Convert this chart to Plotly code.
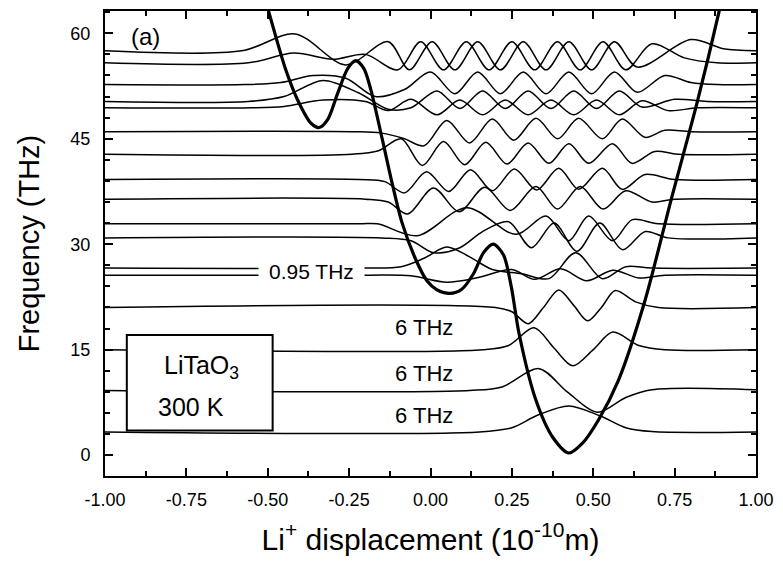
import plotly.graph_objects as go

# ---- potential energy curve (thick line) ----
potential_x = [-0.520, -0.498, -0.446, -0.406, -0.367, -0.342, -0.315, -0.285, -0.254, -0.230,
               -0.205, -0.184, -0.148, -0.117, -0.087, -0.047, -0.011, 0.020, 0.059, 0.096,
               0.132, 0.163, 0.193, 0.224, 0.248, 0.272, 0.324, 0.376, 0.425, 0.467,
               0.516, 0.577, 0.659, 0.738, 0.820, 0.887, 0.900]
potential_f = [66.5, 63.2, 55.0, 50.3, 47.2, 46.6, 47.8, 51.5, 55.0, 56.1,
               55.0, 52.1, 44.9, 38.5, 33.0, 28.0, 24.8, 23.5, 23.0, 23.6,
               25.8, 28.8, 30.0, 28.5, 24.0, 17.3, 7.8, 2.5, 0.3, 1.7,
               5.0, 10.6, 22.0, 36.1, 50.3, 63.2, 66.0]

# ---- vibrational states, offset by their frequencies ----
state_01_x = [-1, 0.15, 0.25, 0.33, 0.425, 0.52, 0.60, 0.68, 1]
state_01_f = [3.3, 3.3, 3.9, 5.7, 7.0, 5.6, 3.9, 3.35, 3.3]

state_02_x = [-1, 0.12, 0.22, 0.333, 0.42, 0.513, 0.60, 0.68, 1]
state_02_f = [9.2, 9.2, 9.7, 12.3, 9.0, 6.1, 8.2, 9.3, 9.3]

state_03_x = [-1, 0.16, 0.24, 0.318, 0.38, 0.437, 0.50, 0.56, 0.64, 0.72, 1]
state_03_f = [15.0, 15.0, 15.6, 18.1, 15.2, 12.7, 15.0, 17.5, 15.6, 15.0, 15.0]

state_04_x = [-1, 0.20, 0.25, 0.30, 0.347, 0.394, 0.44, 0.483, 0.525, 0.568, 0.63, 0.70, 1]
state_04_f = [21.0, 21.0, 20.4, 18.7, 21.0, 23.5, 21.3, 19.1, 21.0, 23.4, 21.8, 21.0, 21.0]

state_05_x = [-1, -0.203, -0.06, 0.05, 0.15, 0.25, 0.32, 0.40, 0.48, 0.56, 0.64, 0.72, 1]
state_05_f = [25.6, 25.6, 25.5, 24.6, 25.3, 26.4, 25.0, 26.5, 24.8, 26.3, 25.2, 25.6, 25.6]

state_06_x = [-1, -0.203, -0.09, -0.02, 0.05, 0.12, 0.19, 0.28, 0.364, 0.446, 0.528, 0.60, 0.68, 1]
state_06_f = [26.6, 26.6, 26.8, 28.0, 29.6, 28.2, 26.4, 25.8, 25.1, 28.8, 25.1, 26.8, 26.6, 26.6]

state_07_x = [-1, -0.15, -0.06, 0.01, 0.09, 0.16, 0.24, 0.31, 0.38, 0.45, 0.52, 0.59, 0.66, 0.73, 1]
state_07_f = [30.9, 30.9, 30.5, 28.8, 29.5, 31.8, 33.2, 29.5, 33.0, 29.0, 33.0, 29.2, 31.8, 30.9, 30.9]

state_08_x = [-1, -0.22, -0.163, -0.041, 0.111, 0.263, 0.355, 0.425, 0.486, 0.559, 0.62, 0.70, 1]
state_08_f = [32.9, 32.9, 32.9, 31.2, 35.2, 31.4, 34.0, 30.5, 34.0, 30.5, 33.5, 32.9, 32.9]

state_09_x = [-1, -0.20, -0.13, -0.07, 0.009, 0.088, 0.167, 0.245, 0.324, 0.39, 0.46, 0.53, 0.60, 0.68, 0.75, 1]
state_09_f = [36.4, 36.4, 36.0, 34.3, 38.0, 34.6, 38.1, 34.8, 38.2, 35.0, 38.2, 35.0, 37.6, 36.0, 36.4, 36.4]

state_10_x = [-1, -0.22, -0.14, -0.08, -0.012, 0.056, 0.123, 0.19, 0.258, 0.326, 0.394, 0.455, 0.528, 0.589, 0.659, 0.75, 1]
state_10_f = [39.2, 39.2, 38.9, 37.3, 40.3, 37.5, 40.6, 37.6, 40.7, 37.7, 40.8, 37.8, 40.8, 37.8, 39.9, 39.2, 39.2]

state_11_x = [-1, -0.24, -0.16, -0.09, -0.025, 0.04, 0.105, 0.17, 0.235, 0.30, 0.364, 0.425, 0.486, 0.559, 0.619, 0.689, 0.76, 1]
state_11_f = [42.8, 42.8, 43.3, 45.0, 41.2, 44.6, 41.3, 44.5, 41.4, 44.4, 41.5, 44.3, 41.5, 44.3, 41.5, 43.2, 42.8, 42.8]

state_12_x = [-1, -0.24, -0.15, -0.08, -0.02, 0.05, 0.12, 0.19, 0.256, 0.324, 0.391, 0.455, 0.528, 0.589, 0.659, 0.72, 0.80, 1]
state_12_f = [46.0, 46.0, 45.8, 45.0, 44.0, 47.6, 44.4, 47.8, 44.8, 47.9, 45.0, 47.9, 45.0, 47.8, 45.2, 46.2, 46.0, 46.0]

state_13_x = [-1, -0.55, -0.45, -0.33, -0.20, -0.13, -0.06, 0.02, 0.09, 0.16, 0.23, 0.30, 0.37, 0.44, 0.51, 0.58, 0.65, 0.73, 0.82, 1]
state_13_f = [49.4, 49.4, 49.6, 50.5, 50.3, 49.0, 50.6, 48.4, 50.5, 48.4, 50.5, 48.4, 50.5, 48.4, 50.5, 48.4, 50.4, 49.0, 49.4, 49.4]

state_14_x = [-1, -0.56, -0.45, -0.33, -0.22, -0.13, -0.06, 0.02, 0.09, 0.16, 0.23, 0.30, 0.37, 0.44, 0.51, 0.58, 0.65, 0.75, 0.85, 1]
state_14_f = [50.3, 50.3, 51.0, 53.3, 51.5, 49.2, 49.4, 51.8, 49.3, 51.8, 49.3, 51.8, 49.3, 51.8, 49.3, 51.8, 49.5, 50.6, 50.3, 50.3]

state_15_x = [-1, -0.57, -0.46, -0.36, -0.26, -0.17, -0.08, 0.0, 0.075, 0.145, 0.215, 0.285, 0.355, 0.425, 0.495, 0.565, 0.635, 0.72, 0.80, 0.88, 1]
state_15_f = [52.7, 52.7, 53.0, 54.0, 53.6, 51.0, 52.0, 54.5, 51.4, 54.5, 51.4, 54.5, 51.4, 54.5, 51.4, 54.5, 51.6, 54.0, 53.0, 52.7, 52.7]

state_16_x = [-1, -0.56, -0.42, -0.30, -0.20, -0.10, -0.03, 0.04, 0.11, 0.18, 0.25, 0.32, 0.39, 0.46, 0.53, 0.60, 0.68, 0.78, 0.88, 1]
state_16_f = [55.8, 55.8, 57.2, 56.3, 57.0, 54.8, 58.8, 54.8, 58.8, 54.8, 58.8, 54.8, 58.8, 54.8, 58.8, 54.8, 58.5, 56.5, 55.8, 55.8]

state_17_x = [-1, -0.58, -0.416, -0.26, -0.13, -0.065, 0.005, 0.075, 0.145, 0.215, 0.285, 0.355, 0.425, 0.495, 0.565, 0.635, 0.80, 0.90, 1]
state_17_f = [57.5, 57.5, 59.9, 55.5, 58.8, 54.8, 58.8, 54.8, 58.8, 54.8, 58.8, 54.8, 58.8, 54.8, 58.8, 55.2, 59.1, 57.8, 57.5]

states = [
    (state_01_x, state_01_f), (state_02_x, state_02_f), (state_03_x, state_03_f),
    (state_04_x, state_04_f), (state_05_x, state_05_f), (state_06_x, state_06_f),
    (state_07_x, state_07_f), (state_08_x, state_08_f), (state_09_x, state_09_f),
    (state_10_x, state_10_f), (state_11_x, state_11_f), (state_12_x, state_12_f),
    (state_13_x, state_13_f), (state_14_x, state_14_f), (state_15_x, state_15_f),
    (state_16_x, state_16_f), (state_17_x, state_17_f),
]

x_tick_vals = [-1.0, -0.75, -0.5, -0.25, 0.0, 0.25, 0.5, 0.75, 1.0]
x_tick_text = ["-1.00", "-0.75", "-0.50", "-0.25", "0.00", "0.25", "0.50", "0.75", "1.00"]
y_tick_vals = [0, 15, 30, 45, 60]

FONT = "Liberation Sans, Arial, Helvetica, sans-serif"

fig = go.Figure()
for sx, sf in states:
    fig.add_trace(go.Scatter(x=sx, y=sf, mode="lines",
                             line=dict(color="black", width=1.5, shape="spline", smoothing=0.9),
                             hoverinfo="skip", showlegend=False))

fig.add_trace(go.Scatter(x=potential_x, y=potential_f, mode="lines",
                         line=dict(color="black", width=3.2, shape="spline", smoothing=0.8),
                         hoverinfo="skip", showlegend=False))

axis_common = dict(showline=True, linecolor="black", linewidth=2, mirror="ticks",
                   ticks="inside", ticklen=8, tickwidth=1.5, tickcolor="black",
                   showgrid=False, zeroline=False,
                   tickfont=dict(family=FONT, size=18, color="black"))

fig.update_xaxes(range=[-1, 1], tickvals=x_tick_vals, ticktext=x_tick_text,
                 minor=dict(dtick=0.125, ticks="inside", ticklen=5, tickcolor="black", tickwidth=1.5),
                 title=dict(text="Li<sup>+</sup> displacement (10<sup>-10</sup>m)",
                            font=dict(family=FONT, size=30, color="black"), standoff=20),
                 ticklabelstandoff=6, **axis_common)
fig.update_yaxes(range=[-2.97, 63.17], tickvals=y_tick_vals,
                 minor=dict(dtick=3, ticks="inside", ticklen=5, tickcolor="black", tickwidth=1.5),
                 title=dict(text="Frequency (THz)", font=dict(family=FONT, size=29, color="black"),
                            standoff=22),
                 ticklabelstandoff=9, **axis_common)

# sample box
fig.add_shape(type="rect", x0=-0.933, x1=-0.485, y0=3.5, y1=17.1,
              line=dict(color="black", width=2), fillcolor="white", layer="above")

annotations = [
    dict(x=-0.704, y=12.6, text="LiTaO<sub>3</sub>", font=dict(family=FONT, size=25)),
    dict(x=-0.735, y=6.8, text="300 K", font=dict(family=FONT, size=25)),
    dict(x=-0.876, y=59.5, text="(a)", font=dict(family=FONT, size=24)),
    dict(x=-0.367, y=26.1, text="0.95 THz", font=dict(family=FONT, size=21),
         bgcolor="white", borderpad=10),
    dict(x=-0.02, y=18.1, text="6 THz", font=dict(family=FONT, size=22)),
    dict(x=-0.02, y=11.6, text="6 THz", font=dict(family=FONT, size=22)),
    dict(x=-0.02, y=5.7, text="6 THz", font=dict(family=FONT, size=22)),
]
for a in annotations:
    a.setdefault("showarrow", False)
    a["font"]["color"] = "black"
    fig.add_annotation(xref="x", yref="y", **a)

fig.update_layout(width=783, height=563, margin=dict(l=105, r=21, t=9, b=87),
                  plot_bgcolor="white", paper_bgcolor="white")

fig.write_html("out.html")
